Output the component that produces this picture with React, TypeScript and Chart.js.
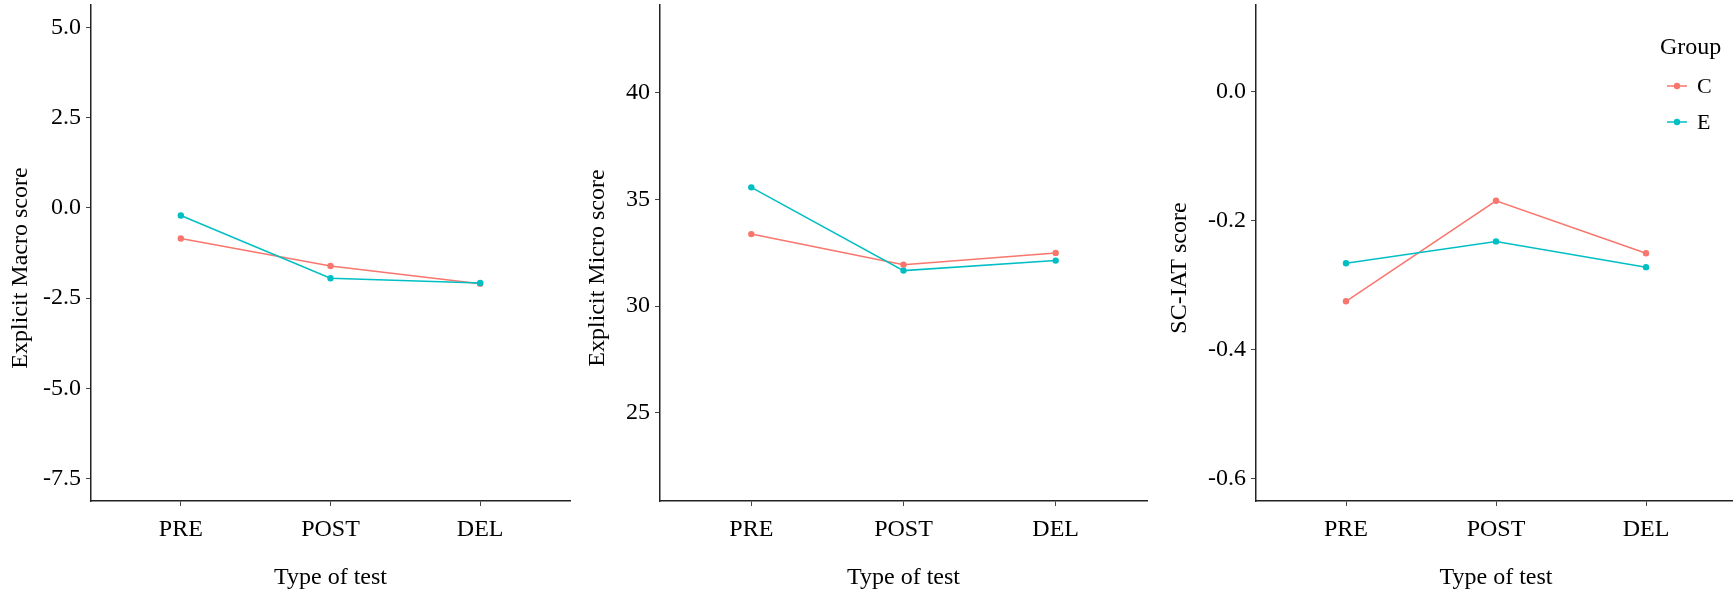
import React, { useEffect, useRef } from "react";
import { Chart, registerables } from "chart.js";

Chart.register(...registerables);

// ---------- data ----------
const categories = ["PRE", "POST", "DEL"];
const groups = ["C", "E"];
const groupColors = ["#F8766D", "#00BFC4"];

const macroC = [-0.85, -1.61, -2.1];
const macroE = [-0.21, -1.95, -2.08];
const microC = [33.37, 31.94, 32.49];
const microE = [35.56, 31.66, 32.13];
const iatC = [-0.325, -0.169, -0.2505];
const iatE = [-0.266, -0.232, -0.272];

const macroTicks = [-7.5, -5, -2.5, 0, 2.5, 5];
const microTicks = [25, 30, 35, 40];
const iatTicks = [-0.6, -0.4, -0.2, 0];

const xTitle = "Type of test";
const legendTitle = "Group";

// ---------- styles ----------
const FAMILY = "'Liberation Serif', 'Times New Roman', serif";
const TEXT = "#000000";
const H = 593;

type PanelCfg = {
  left: number;
  width: number;
  axisW: number;
  yMin: number;
  yMax: number;
  ticks: number[];
  decimals: number;
  yTitle: string;
  yTitleX: number;
  series: number[][];
  legend: boolean;
};

const panels: PanelCfg[] = [
  {
    left: 0, width: 575, axisW: 91, yMin: -8.125, yMax: 5.625,
    ticks: macroTicks, decimals: 1, yTitle: "Explicit Macro score", yTitleX: 27,
    series: [macroC, macroE], legend: false,
  },
  {
    left: 580, width: 572, axisW: 80, yMin: 20.87, yMax: 44.1,
    ticks: microTicks, decimals: 0, yTitle: "Explicit Micro score", yTitleX: 24,
    series: [microC, microE], legend: false,
  },
  {
    left: 1160, width: 581, axisW: 96, yMin: -0.635, yMax: 0.135,
    ticks: iatTicks, decimals: 1, yTitle: "SC-IAT score", yTitleX: 26,
    series: [iatC, iatE], legend: true,
  },
];

function Panel({ cfg }: { cfg: PanelCfg }) {
  const ref = useRef<HTMLCanvasElement>(null);

  useEffect(() => {
    const font = { family: FAMILY, size: 24 };

    const overlay = {
      id: "overlayText",
      afterDraw(chart: any) {
        const ctx = chart.ctx as CanvasRenderingContext2D;
        ctx.save();
        ctx.fillStyle = TEXT;
        ctx.font = `24px ${FAMILY}`;
        ctx.translate(cfg.yTitleX, 268);
        ctx.rotate(-Math.PI / 2);
        ctx.textAlign = "center";
        ctx.textBaseline = "alphabetic";
        ctx.fillText(cfg.yTitle, 0, 0);
        ctx.restore();

        if (cfg.legend) {
          ctx.save();
          ctx.fillStyle = TEXT;
          ctx.font = `24px ${FAMILY}`;
          ctx.textAlign = "left";
          ctx.textBaseline = "alphabetic";
          ctx.fillText(legendTitle, 500, 54);
          const rows = [86, 122];
          groups.forEach((g, i) => {
            const y = rows[i];
            ctx.strokeStyle = groupColors[i];
            ctx.lineWidth = 1.5;
            ctx.beginPath();
            ctx.moveTo(507, y);
            ctx.lineTo(527, y);
            ctx.stroke();
            ctx.fillStyle = groupColors[i];
            ctx.beginPath();
            ctx.arc(517, y, 3.2, 0, Math.PI * 2);
            ctx.fill();
            ctx.fillStyle = TEXT;
            ctx.font = `22px ${FAMILY}`;
            ctx.textBaseline = "middle";
            ctx.fillText(g, 537, y + 1);
          });
          ctx.restore();
        }
      },
    };

    const datasets = groups.map((g, i) => ({
      label: g,
      data: categories.map((_, k) => ({ x: k + 1, y: cfg.series[i][k] })),
      borderColor: groupColors[i],
      backgroundColor: groupColors[i],
      borderWidth: 1.5,
      pointRadius: 3.2,
      pointBorderWidth: 0,
      pointHoverRadius: 3.2,
      tension: 0,
      order: i === 0 ? 1 : 0,
    }));

    const gridOpts = {
      drawOnChartArea: false,
      drawTicks: true,
      tickLength: 5,
      color: "#444444",
      lineWidth: 1,
    };
    const borderOpts = { display: true, color: "#222222", width: 1.5 };

    const chart = new Chart(ref.current!, {
      type: "line",
      data: { datasets },
      plugins: [overlay],
      options: {
        animation: false,
        responsive: false,
        maintainAspectRatio: false,
        layout: { padding: { top: 5, right: 5, left: 0, bottom: 0 } },
        plugins: {
          legend: { display: false },
          tooltip: { enabled: false },
        },
        scales: {
          x: {
            type: "linear",
            min: 0.4,
            max: 3.6,
            afterBuildTicks: (s: any) => {
              s.ticks = categories.map((_, i) => ({ value: i + 1 }));
            },
            afterFit: (s: any) => {
              s.height = 92;
              s.paddingLeft = 0;
              s.paddingRight = 0;
            },
            ticks: {
              callback: (v: any) => categories[Math.round(Number(v)) - 1] ?? "",
              font,
              color: TEXT,
              padding: 9,
              maxRotation: 0,
              autoSkip: false,
            },
            grid: gridOpts,
            border: borderOpts,
            title: {
              display: true,
              text: xTitle,
              font,
              color: TEXT,
              padding: { top: 0, bottom: 1 },
            },
          },
          y: {
            type: "linear",
            min: cfg.yMin,
            max: cfg.yMax,
            afterBuildTicks: (s: any) => {
              s.ticks = cfg.ticks.map((v) => ({ value: v }));
            },
            afterFit: (s: any) => {
              s.width = cfg.axisW;
              s.paddingTop = 0;
              s.paddingBottom = 0;
            },
            ticks: {
              callback: (v: any) => Number(v).toFixed(cfg.decimals),
              font,
              color: TEXT,
              padding: 5,
            },
            grid: gridOpts,
            border: borderOpts,
          },
        },
      } as any,
    });
    return () => chart.destroy();
  }, [cfg]);

  return (
    <canvas
      ref={ref}
      width={cfg.width}
      height={H}
      style={{ position: "absolute", left: cfg.left, top: 0, width: cfg.width, height: H }}
    />
  );
}

export default function App() {
  return (
    <div
      style={{
        position: "fixed",
        left: 0,
        top: 0,
        width: 1733,
        height: H,
        overflow: "hidden",
        background: "#ffffff",
      }}
    >
      {panels.map((p, i) => (
        <Panel key={i} cfg={p} />
      ))}
    </div>
  );
}
